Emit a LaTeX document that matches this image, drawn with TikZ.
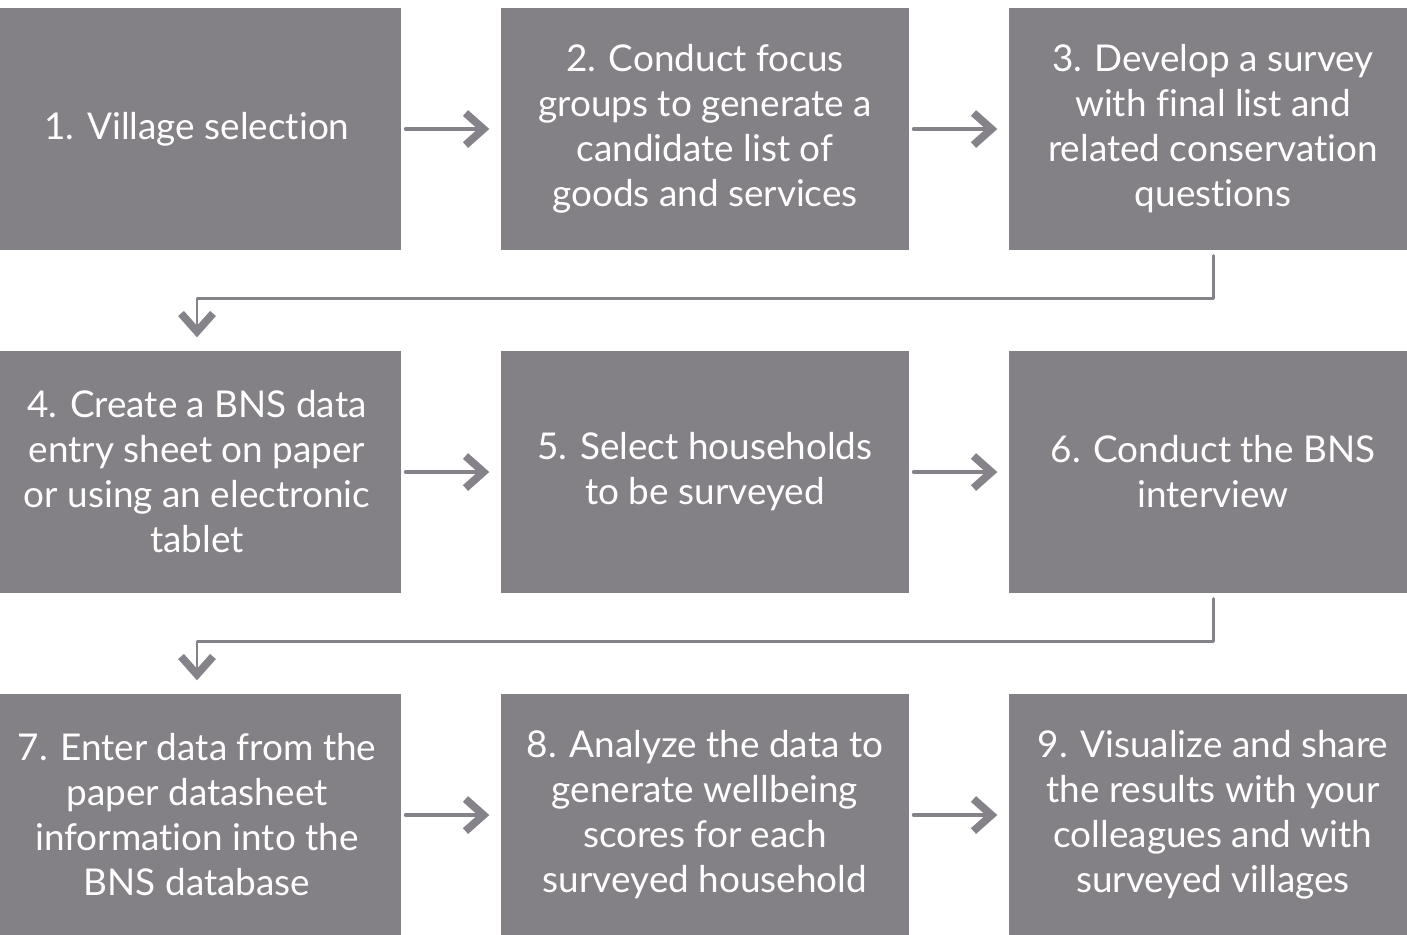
\documentclass[tikz,border=0pt]{standalone}
\usepackage{fontspec}
\setmainfont[Ligatures=NoCommon]{Lato}
\usetikzlibrary{arrows.meta}
\definecolor{boxgray}{RGB}{131,128,134}
\definecolor{linegray}{RGB}{133,131,137}

\begin{document}
\begin{tikzpicture}[line join=round, line cap=round,
    stage/.style={fill=boxgray, text=white, minimum width=4.08cm, minimum height=2.42cm,
      align=center, inner sep=0pt, font=\fontsize{10.5}{12.8}\selectfont},
    chevron/.style={-{Straight Barb[length=1.8mm, width=3.2mm, line width=2.2pt]}},
    flow/.style={chevron, draw=linegray, line width=1.1pt, shorten <=0.04cm, shorten >=0.11cm},
    turn/.style={chevron, draw=linegray, line width=0.85pt, shorten <=0.05cm, shorten >=0.13cm}]
    \def\xa{1.97}
    \def\xb{7.05}
    \def\xc{12.13}
    \def\ya{-1.29}
    \def\yb{-4.72}
    \def\yc{-8.15}
    \useasboundingbox (0,0) rectangle (14.07,-9.34);
    % first row
    \node[stage] (s1) at (\xa,\ya) {1. Village selection};
    \node[stage] (s2) at (\xb,\ya) {2. Conduct focus\\groups to generate a\\candidate list of\\goods and services};
    \node[stage] (s3) at (\xc,\ya) {3. Develop a survey\\with final list and\\related conservation\\questions};
    % second row
    \node[stage] (s4) at (\xa,\yb) {4. Create a BNS data\\entry sheet on paper\\or using an electronic\\tablet};
    \node[stage] (s5) at (\xb,\yb) {5. Select households\\to be surveyed};
    \node[stage] (s6) at (\xc,\yb) {6. Conduct the BNS\\interview};
    % third row
    \node[stage] (s7) at (\xa,\yc) {7. Enter data from the\\paper datasheet\\information into the\\BNS database};
    \node[stage] (s8) at (\xb,\yc) {8. Analyze the data to\\generate wellbeing\\scores for each\\surveyed household};
    \node[stage] (s9) at (\xc,\yc) {9. Visualize and share\\the results with your\\colleagues and with\\surveyed villages};
    % connectors
    \draw[flow] (s1) -- (s2);
    \draw[flow] (s2) -- (s3);
    \draw[flow] (s4) -- (s5);
    \draw[flow] (s5) -- (s6);
    \draw[flow] (s7) -- (s8);
    \draw[flow] (s8) -- (s9);
    \draw[turn] (s3.south) -- ++(0,-0.48) -| (s4.north);
    \draw[turn] (s6.south) -- ++(0,-0.48) -| (s7.north);
\end{tikzpicture}
\end{document}
